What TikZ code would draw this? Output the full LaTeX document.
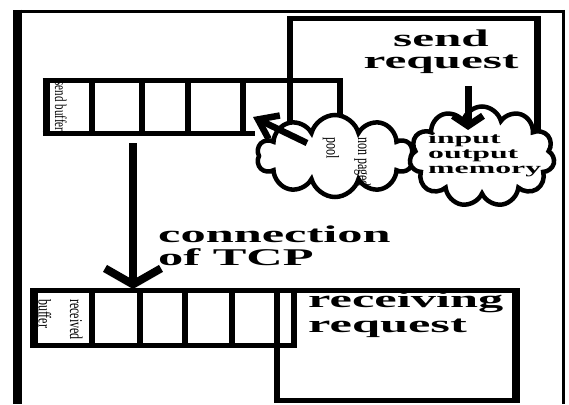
\documentclass[tikz,border=0pt]{standalone}
\usepackage{fontspec}
\setmainfont{Liberation Serif}
\usetikzlibrary{shapes.symbols,arrows.meta}
\begin{document}
\begin{tikzpicture}[x=1pt,y=-1pt,
  cloudbox/.style={cloud, draw, fill=white, line width=4.5pt, inner sep=0pt},
  bigtext/.style={inner sep=0pt, font=\bfseries\fontsize{24}{#1}\selectfont},
  smalltext/.style={inner sep=0pt, rotate=-90, anchor=base west, font=\fontsize{#1}{21}\selectfont},
  thickarrow/.style={line width=6.5pt},
]
\useasboundingbox (0,0) rectangle (569,404);
% outer frame (open at the bottom)
\draw[line width=9pt] (17.5,9.75) -- (17.5,404);
\draw[line width=3.5pt] (13,11.5) -- (564,11.5);
\draw[line width=3pt] (563,10) -- (563,404);
% send request box (its bottom hidden by the clouds)
\draw[line width=5pt] (287,19) -- (540,19);
\draw[line width=6pt] (290,16.5) -- (290,140);
\draw[line width=7pt] (537,16.5) -- (537,135);
% send buffer
\draw[line width=5pt] (42.5,80.5) -- (343,80.5);
\draw[line width=5pt] (42.5,133) -- (255,133);
\draw[line width=7pt] (46,78) -- (46,135.5);
\foreach \x in {92,142,188,243} \draw[line width=6pt] (\x,80) -- (\x,133);
\draw[line width=6pt] (340,78) -- (340,128);
% clouds
\node[cloudbox, cloud puffs=10, minimum width=156pt, minimum height=82pt] (npp) at (335,156) {};
\node[cloudbox, cloud puffs=11, minimum width=145pt, minimum height=100pt] (iom) at (482,156.5) {};
% receiving buffer and receiving request box
\draw[line width=5pt] (30,290.5) -- (520,290.5);
\draw[line width=5pt] (30,345.5) -- (297,345.5);
\draw[line width=8pt] (34,288) -- (34,348);
\foreach \x in {92,140,185,232} \draw[line width=6pt] (\x,290) -- (\x,345);
\draw[line width=6pt] (294,290) -- (294,345);
\draw[line width=6pt] (277,288) -- (277,402.5);
\draw[line width=8pt] (516,288) -- (516,402.5);
\draw[line width=5pt] (274,400) -- (520,400);
% texts
\node[bigtext=22, anchor=base] (sendreq) at (441,46)
  {\scalebox{2.05}[1]{\begin{tabular}[t]{@{}c@{}}send\\request\end{tabular}}};
\node[bigtext=23, anchor=base west] (tcp) at (158,242)
  {\scalebox{2.1}[1]{\begin{tabular}[t]{@{}l@{}}connection\\of TCP\end{tabular}}};
\node[bigtext=25, anchor=base west] (recvreq) at (308,307)
  {\scalebox{2.1}[1]{\begin{tabular}[t]{@{}l@{}}receiving\\request\end{tabular}}};
\node[inner sep=0pt, anchor=base west, font=\bfseries\fontsize{15.5}{15}\selectfont] (iotext) at (428,143)
  {\scalebox{2.05}[1]{\begin{tabular}[t]{@{}l@{}}input\\output\\memory\end{tabular}}};
\node[smalltext=11] (sbuf) at (55,81.5) {\scalebox{1}[1.5]{send buffer}};
\node[smalltext=12] (nptext) at (358,137)
  {\scalebox{1}[1.5]{\begin{tabular}[t]{@{}l@{}}non paged\\pool\end{tabular}}};
\node[smalltext=12] (rbuf) at (70,299)
  {\scalebox{1}[1.5]{\begin{tabular}[t]{@{}l@{}}received\\buffer\end{tabular}}};
% connectors
\coordinate (sendA) at (468,86);
\coordinate (sendB) at (468,130);
\draw[line width=7pt, -{Straight Barb[length=10pt,width=30pt]}] (sendA) -- (sendB);
\coordinate (npA) at (307,143);
\coordinate (npB) at (253,117);
\draw[thickarrow, -{Straight Barb[length=18pt,width=26pt]}] (npA) -- (npB);
\coordinate (tcpA) at (133,143);
\coordinate (tcpB) at (133,289);
\draw[line width=8pt, -{Straight Barb[length=16pt,width=56pt]}] (tcpA) -- (tcpB);
\end{tikzpicture}
\end{document}
